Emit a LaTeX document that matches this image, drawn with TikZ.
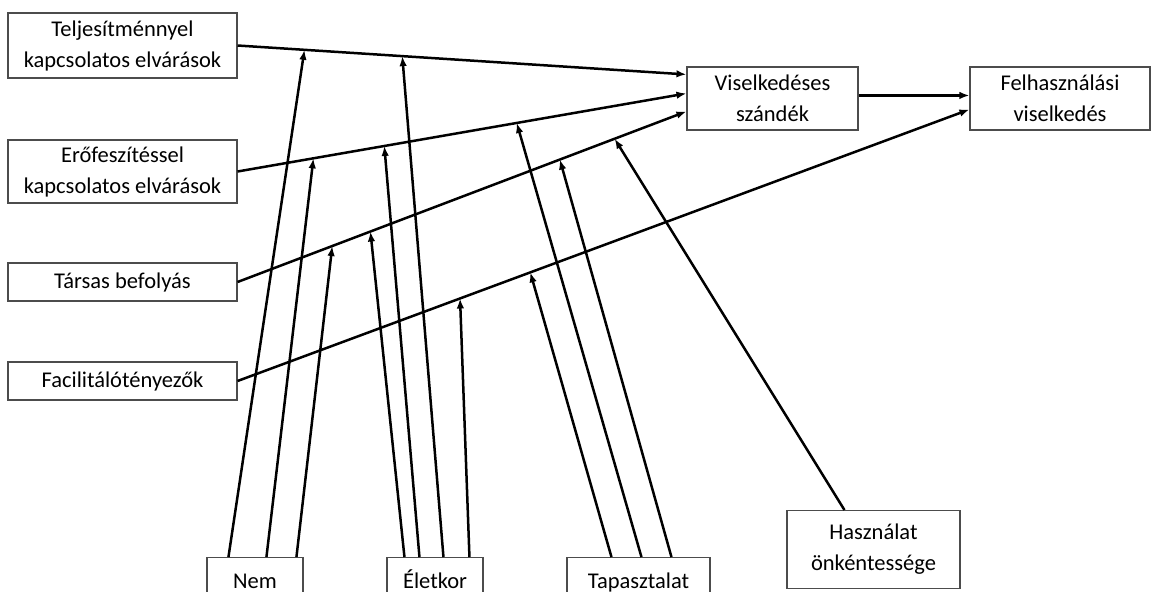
\documentclass[tikz,border=0pt]{standalone}
\usepackage{fontspec}
\setmainfont{Carlito}
\usetikzlibrary{calc,arrows.meta}
\begin{document}
\begin{tikzpicture}[x=1pt,y=-1pt,
  box/.style={draw=black!70,line width=1.1pt,inner sep=0pt,align=center,
    font=\fontsize{22.5}{31}\selectfont},
  cutbox/.style={box,anchor=north,text height=16pt,text depth=6pt,inner ysep=15pt},
  conn/.style={line width=2.5pt,-{Latex[length=10pt,width=7.5pt]}}]
\useasboundingbox (0,0) rectangle (1160,592);
\clip (0,0) rectangle (1160,592);

% determinants (left column)
\node[box,minimum width=229,minimum height=65] (perf) at (122.5,45.5) {Teljesítménnyel\\kapcsolatos elvárások};
\node[box,minimum width=229,minimum height=63] (effort) at (122.5,171.5) {Erőfeszítéssel\\kapcsolatos elvárások};
\node[box,minimum width=229,minimum height=38] (social) at (122.5,282) {Társas befolyás};
\node[box,minimum width=229,minimum height=38] (facil) at (122.5,381) {Facilitálótényezők};

% outcomes
\node[box,minimum width=171,minimum height=63] (intent) at (772.5,98.5) {Viselkedéses\\szándék};
\node[box,minimum width=180,minimum height=63] (usage) at (1060,98.5) {Felhasználási\\viselkedés};

% moderators (bottom row, running off the lower edge)
\node[cutbox,minimum width=96] (gender) at (255,557) {Nem};
\node[cutbox,minimum width=96] (age) at (435,557) {Életkor};
\node[cutbox,minimum width=143] (exper) at (638.5,557) {Tapasztalat};
\node[box,anchor=north,minimum width=173,minimum height=78] (volun) at (873.5,510) {Használat\\önkéntessége};

% main paths
\draw[conn] (perf.east) -- coordinate[pos=0.149] (pA1) coordinate[pos=0.367] (pA2)
  ($(intent.north west)+(0,8)$);
\draw[conn] (effort.east) -- coordinate[pos=0.169] (pB1) coordinate[pos=0.327] (pB2)
  coordinate[pos=0.622] (pB3) ($(intent.north west)+(0,27)$);
\draw[conn] (social.east) -- coordinate[pos=0.211] (pC1) coordinate[pos=0.296] (pC2)
  coordinate[pos=0.718] (pC3) coordinate[pos=0.840] (pC4) ($(intent.north west)+(0,45)$);
\draw[conn] (facil.east) -- coordinate[pos=0.304] (pD1) coordinate[pos=0.400] (pD2)
  ($(usage.north west)+(0,43)$);
\draw[conn] ($(intent.north east)+(0,29)$) -- ($(usage.north west)+(0,29)$);

% moderating effects
\draw[conn] ($(gender.north west)+(22,0)$) -- (pA1);
\draw[conn] ($(gender.north west)+(60,0)$) -- (pB1);
\draw[conn] ($(gender.north west)+(90,0)$) -- (pC1);

\draw[conn] ($(age.north west)+(18,0)$) -- (pC2);
\draw[conn] ($(age.north west)+(33,0)$) -- (pB2);
\draw[conn] ($(age.north west)+(57,0)$) -- (pA2);
\draw[conn] ($(age.north west)+(83,0)$) -- (pD1);

\draw[conn] ($(exper.north west)+(45,0)$) -- (pD2);
\draw[conn] ($(exper.north west)+(75,0)$) -- (pB3);
\draw[conn] ($(exper.north west)+(105,0)$) -- (pC3);

\draw[conn] ($(volun.north west)+(58,0)$) -- (pC4);
\end{tikzpicture}
\end{document}
